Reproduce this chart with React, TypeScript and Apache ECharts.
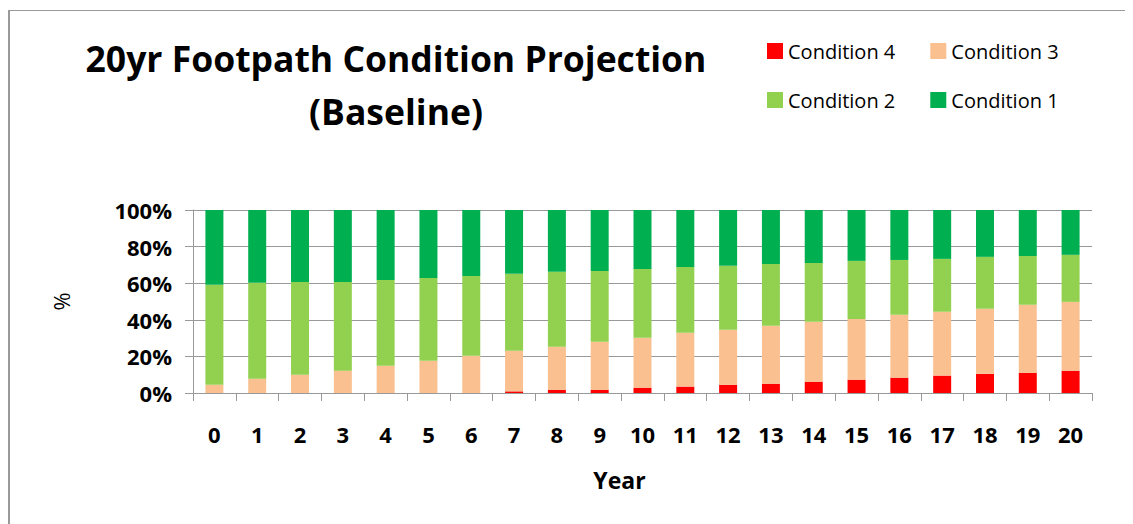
import React, { useEffect, useRef } from "react";
import * as echarts from "echarts";

const years = ["0","1","2","3","4","5","6","7","8","9","10","11","12","13","14","15","16","17","18","19","20"];
const condition4 = [0, 0, 0, 0, 0, 0, 0, 0.9, 1.8, 1.8, 2.9, 3.5, 4.5, 5.1, 6.2, 7.3, 8.4, 9.5, 10.5, 11.1, 12.2];
const condition3 = [4.5, 7.8, 10.0, 12.2, 14.9, 17.6, 20.4, 22.2, 23.5, 26.2, 27.3, 29.4, 30.0, 31.6, 32.7, 33.2, 34.3, 34.9, 35.5, 37.1, 37.6];
const condition2 = [54.6, 52.4, 50.7, 48.5, 46.9, 45.3, 43.6, 42.0, 40.9, 38.7, 37.6, 36.0, 35.0, 33.8, 32.2, 31.7, 30.0, 28.9, 28.4, 26.7, 25.7];
const condition1 = [40.9, 39.8, 39.3, 39.3, 38.2, 37.1, 36.0, 34.9, 33.8, 33.3, 32.2, 31.1, 30.5, 29.5, 28.9, 27.8, 27.3, 26.7, 25.6, 25.1, 24.5];

const seriesNames = ["Condition 4", "Condition 3", "Condition 2", "Condition 1"];
const seriesColors = ["#FF0000", "#FAC090", "#92D050", "#00B050"];

const FONT = "'Open Sans', sans-serif";

export default function App() {
  const ref = useRef<HTMLDivElement>(null);

  useEffect(() => {
    if (!ref.current) return;
    const chart = echarts.init(ref.current, null, { renderer: "svg" });
    const dataSets = [condition4, condition3, condition2, condition1];
    chart.setOption({
      animation: false,
      backgroundColor: "#ffffff",
      textStyle: { fontFamily: FONT },
      title: {
        text: "20yr Footpath Condition Projection\n(Baseline)",
        left: 383,
        top: 18,
        textAlign: "center",
        textStyle: {
          fontFamily: FONT,
          fontWeight: "bold",
          fontSize: 35.5,
          lineHeight: 53,
          color: "#000",
        },
      },
      legend: [
        {
          data: [seriesNames[0], seriesNames[1]],
          left: 759,
          top: 33,
          padding: 0,
          itemWidth: 16,
          itemHeight: 16,
          itemGap: 35,
          icon: "rect",
          textStyle: { fontFamily: FONT, fontSize: 20, color: "#000" },
        },
        {
          data: [seriesNames[2], seriesNames[3]],
          left: 759,
          top: 82,
          padding: 0,
          itemWidth: 16,
          itemHeight: 16,
          itemGap: 35,
          icon: "rect",
          textStyle: { fontFamily: FONT, fontSize: 20, color: "#000" },
        },
      ],
      grid: { left: 185, right: 41, top: 202, bottom: 131, containLabel: false },
      xAxis: {
        type: "category",
        data: years,
        name: "Year",
        nameLocation: "middle",
        nameGap: 75,
        nameTextStyle: { fontFamily: FONT, fontWeight: "bold", fontSize: 23, color: "#000", padding: [0, 46, 0, 0] },
        axisLine: { lineStyle: { color: "#999", width: 1 } },
        axisTick: { show: true, length: 8, lineStyle: { color: "#999" } },
        axisLabel: { margin: 30, fontFamily: FONT, fontWeight: "bold", fontSize: 22, color: "#000" },
      },
      yAxis: {
        type: "value",
        min: 0,
        max: 100,
        interval: 20,
        name: "%",
        nameLocation: "middle",
        nameGap: 121,
        nameTextStyle: { fontFamily: FONT, fontSize: 22, color: "#000" },
        axisLine: { show: true, lineStyle: { color: "#999", width: 1 } },
        axisTick: { show: true, length: 8, lineStyle: { color: "#999" } },
        axisLabel: { margin: 21, formatter: "{value}%", fontFamily: FONT, fontWeight: "bold", fontSize: 22, color: "#000" },
        splitLine: { show: true, lineStyle: { color: "#999", width: 1 } },
      },
      series: seriesNames.map((name, i) => ({
        name,
        type: "bar",
        stack: "total",
        barWidth: 18,
        itemStyle: { color: seriesColors[i] },
        data: dataSets[i],
      })),
      graphic: [
        { type: "line", shape: { x1: 1, y1: 2, x2: 1, y2: 516 }, style: { stroke: "#999", lineWidth: 2 } },
        { type: "line", shape: { x1: 0, y1: 2.5, x2: 1125, y2: 2.5 }, style: { stroke: "#999", lineWidth: 1 } },
      ],
    });
    return () => chart.dispose();
  }, []);

  return <div ref={ref} style={{ width: 1125, height: 516 }} />;
}
